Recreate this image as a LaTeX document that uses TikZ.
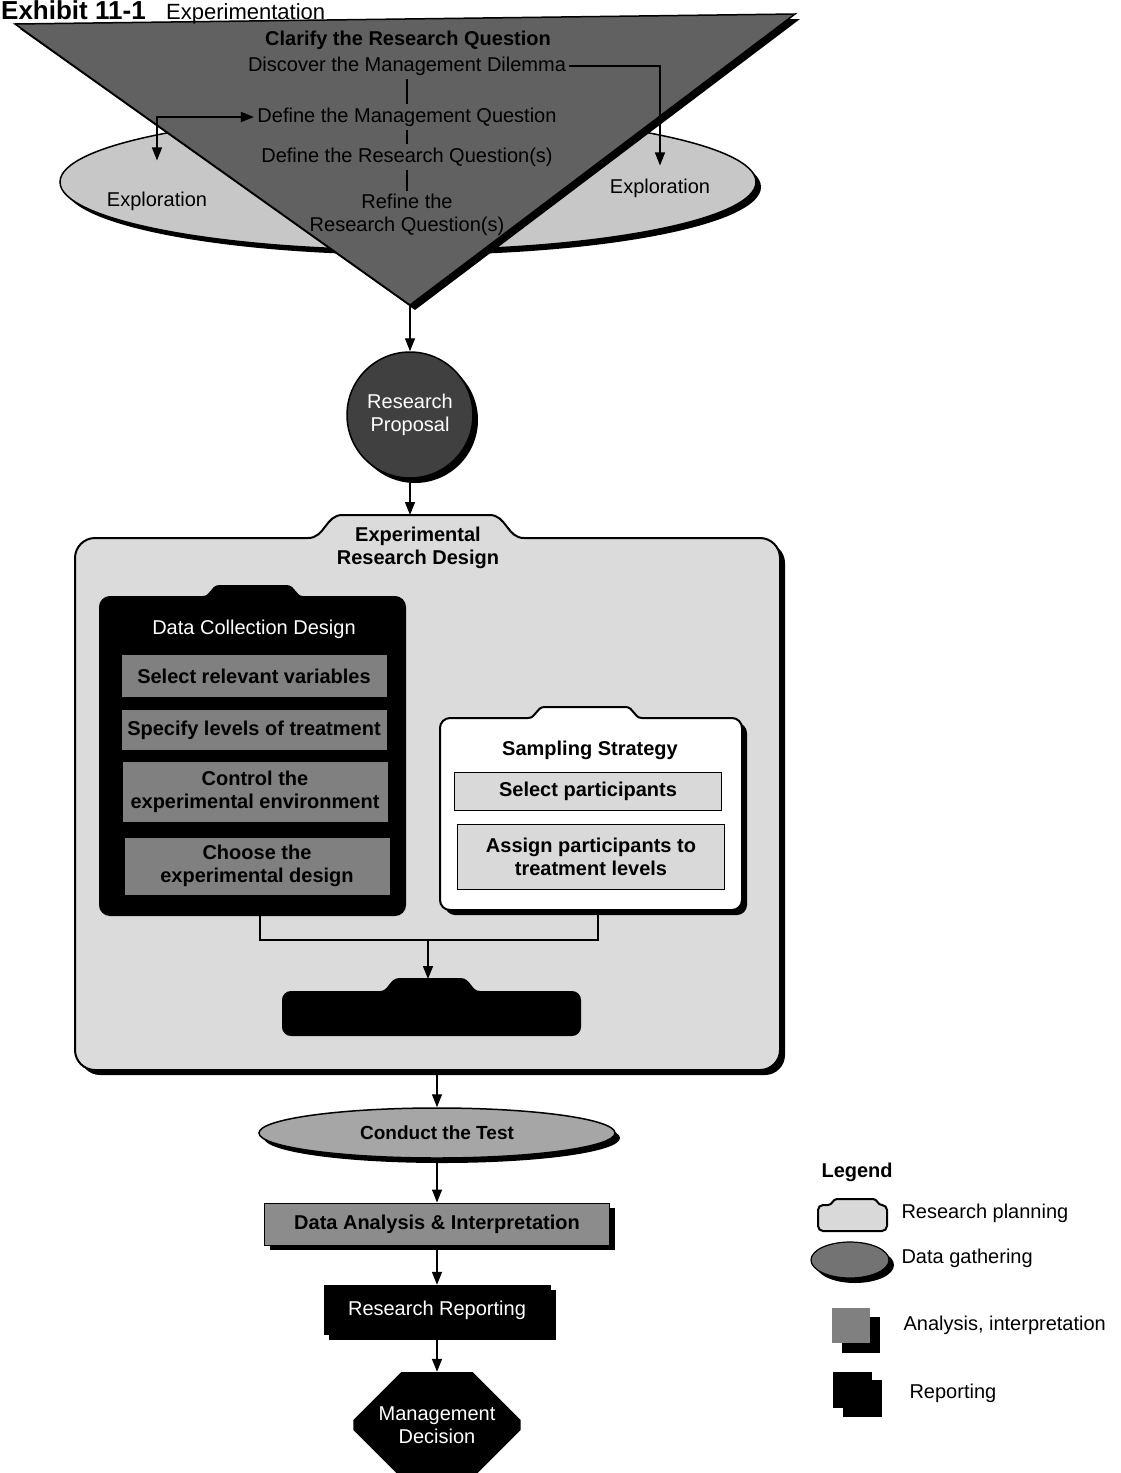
\documentclass[tikz,border=0pt]{standalone}
\usepackage{fontspec}
\setmainfont{Liberation Sans}
\usepackage{tikz}
\usetikzlibrary{
    arrows.meta,
    shapes.geometric,
    shapes.misc,
    shadows
}

% box with a rounded tab on top: options, left, top, right, bottom, tab centre, tab half width, tab height, corner radius
\newcommand{\tabshape}[9]{%
    \path[#1] (#2,{#3+#9}) .. controls (#2,{#3+0.45*#9}) and ({#2+0.45*#9},#3) .. ({#2+#9},#3)
        -- ({#6-#7},#3)
        .. controls ({#6-#7+0.75*#8},#3) and ({#6-#7+0.75*#8},{#3-#8}) .. ({#6-#7+1.5*#8},{#3-#8})
        -- ({#6+#7-1.5*#8},{#3-#8})
        .. controls ({#6+#7-0.75*#8},{#3-#8}) and ({#6+#7-0.75*#8},#3) .. ({#6+#7},#3)
        -- ({#4-#9},#3) .. controls ({#4-0.45*#9},#3) and (#4,{#3+0.45*#9}) .. (#4,{#3+#9})
        -- (#4,{#5-#9}) .. controls (#4,{#5-0.45*#9}) and ({#4-0.45*#9},#5) .. ({#4-#9},#5)
        -- ({#2+#9},#5) .. controls ({#2+0.45*#9},#5) and (#2,{#5-0.45*#9}) .. (#2,{#5-#9})
        -- cycle;}

\begin{document}
\begin{tikzpicture}[x=1pt, y=-1pt,
    arr/.style={->, >={Triangle[length=13pt,width=10pt]}, line width=1.4pt},
    txt/.style={font=\fontsize{20}{23}\selectfont, align=center},
    btxt/.style={font=\fontsize{20}{23}\selectfont\bfseries, align=center},
    dropsh/.style={drop shadow={shadow xshift=5pt, shadow yshift=-5pt, opacity=1, fill=black}},
    dcbox/.style={btxt, fill=black!50, minimum width=265pt, inner sep=2pt},
    spbox/.style={btxt, draw, line width=1pt, fill=black!15, minimum width=267pt, inner sep=2pt}]
            \useasboundingbox (0,0) rectangle (1120,1473);

            % exploration ellipse and question funnel
            \node[ellipse, draw, line width=1.5pt, fill=black!22, dropsh, minimum width=696pt, minimum height=136pt] (expl) at (408,182) {};
            \node[txt, inner sep=0] (exl) at (157,201) {Exploration};
            \node[txt, inner sep=0] (exr) at (660,188) {Exploration};

            \filldraw[line width=1.5pt, fill=black!62, dropsh] (15,24) -- (795,14) -- (410,305) -- cycle;
            \coordinate (tip) at (410,305);

            % title
            \node[anchor=base west, inner sep=0, font=\fontsize{26}{26}\selectfont\bfseries] (exh) at (1,19) {Exhibit 11-1};
            \node[anchor=base west, inner sep=0, font=\fontsize{22}{22}\selectfont] (ttl) at (166,19) {Experimentation};

            \node[btxt] (clar) at (408,40) {Clarify the Research Question};
            \node[txt] (disc) at (407,66) {Discover the Management Dilemma};
            \node[txt] (defm) at (407,117) {Define the Management Question};
            \node[txt] (defr) at (407,157) {Define the Research Question(s)};
            \node[txt] (refn) at (407,215) {Refine the\\Research Question(s)};

            \draw[line width=1.2pt] (disc)--(defm);
            \draw[line width=1.2pt] (defm)--(defr);
            \draw[line width=1.2pt] (defr)--(refn);
            \draw[arr, shorten >=13pt] (disc.east) -| (exr.north);
            \draw[arr, <->, shorten >=31pt] (defm.west) -| (exl.north);

            % proposal
            \node[circle, draw, line width=1.5pt, fill=black!75, dropsh, minimum size=126pt, txt, text=white] (prop) at (410,415) {Research\\Proposal};
            \draw[arr] (tip)--(prop);

            % experimental research design
            \tabshape{draw, line width=2pt, fill=black!14, dropsh}{75}{538}{780}{1070}{416}{108}{23}{20}
            \coordinate (erdtop) at (410,515);
            \coordinate (erdbot) at (437,1070);
            \node[btxt] (erd) at (418,548) {Experimental\\Research Design};
            \draw[arr] (prop)--(erdtop);

            \tabshape{draw, line width=2pt, fill=black}{100}{597}{405}{915}{253}{50}{11}{10}
            \node[txt, text=white] (dcd) at (254,629) {Data Collection Design};
            \node[dcbox, minimum height=42pt] (selv) at (254,676) {Select relevant variables};
            \node[dcbox, minimum height=40pt] (spec) at (254,730) {Specify levels of treatment};
            \node[dcbox, minimum height=60pt] (ctrl) at (255,792) {Control the\\experimental environment};
            \node[dcbox, minimum height=57pt] (chse) at (257,866) {Choose the\\experimental design};

            \tabshape{draw, line width=2pt, fill=white, dropsh}{440}{718}{742}{910}{585}{57}{11}{10}
            \node[btxt] (samp) at (590,750) {Sampling Strategy};
            \node[spbox, minimum height=38pt] (selp) at (588,791) {Select participants};
            \node[spbox, minimum height=65pt] (asgn) at (591,857) {Assign participants to\\treatment levels};

            \coordinate (dcbot) at (260,915);
            \coordinate (spbot) at (598,910);
            \coordinate (join) at (428,940);
            \coordinate (dstop) at (428,979);
            \draw[line width=1.4pt] (dcbot) |- (join) -| (spbot);
            \draw[arr] (join)--(dstop);

            \tabshape{draw, line width=2pt, fill=black}{283}{992}{580}{1035}{430}{50}{13}{8}

            % test, analysis, reporting, decision
            \node[ellipse, draw, line width=1.5pt, fill=black!35, dropsh, minimum width=356pt, minimum height=50pt, btxt, font=\fontsize{19}{22}\selectfont\bfseries] (test) at (437,1133) {Conduct the Test};
            \draw[arr] (erdbot)--(test);

            \node[draw, line width=1pt, fill=black!45, dropsh, minimum width=345pt, minimum height=42pt, btxt] (ana) at (437,1224) {Data Analysis \& Interpretation};
            \draw[arr] (test)--(ana);

            \node[fill=black, dropsh, minimum width=227pt, minimum height=50pt, txt, text=white] (rep) at (437,1310) {Research Reporting};
            \draw[arr] (ana)--(rep);

            \node[chamfered rectangle, fill=black, minimum width=142pt, minimum height=106pt, chamfered rectangle xsep=36pt, chamfered rectangle ysep=26pt, txt, text=white] (dec) at (437,1425) {Management\\Decision};
            \draw[arr] (rep)--(dec);

            % legend
            \node[btxt, anchor=west] (leg) at (818,1172) {Legend};
            \tabshape{draw, line width=2pt, fill=black!15}{818}{1205}{887}{1231}{855}{27}{6}{5}
            \node[txt, anchor=west] (lplan) at (898,1213) {Research planning};
            \node[ellipse, draw, line width=1.2pt, fill=black!55, dropsh, minimum width=78pt, minimum height=36pt] (lgath) at (850,1260) {};
            \node[txt, anchor=west] (lgtxt) at (898,1258) {Data gathering};
            \fill[black] (842,1317) rectangle (880,1353);
            \fill[black!50] (832,1308) rectangle (870,1343);
            \node[txt, anchor=west] (lana) at (900,1325) {Analysis, interpretation};
            \fill[black] (843,1380) rectangle (882,1417);
            \fill[black] (833,1372) rectangle (872,1408);
            \node[txt, anchor=west] (lrep) at (906,1393) {Reporting};
\end{tikzpicture}
\end{document}
